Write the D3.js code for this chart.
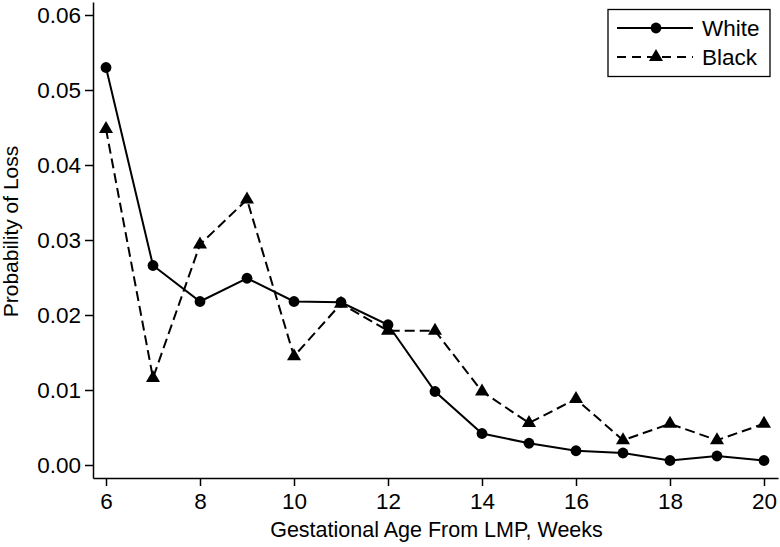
<!DOCTYPE html>
<html><head><meta charset="utf-8">
<script src="https://cdn.jsdelivr.net/npm/d3@7"></script>
<style>body{margin:0;background:#fff}svg{display:block}text{font-family:"Liberation Sans",Arial,Helvetica,sans-serif;fill:#000}</style>
</head><body><svg id="c" width="780" height="547"></svg>
<script>
const weeks = [6,7,8,9,10,11,12,13,14,15,16,17,18,19,20];
const white = [0.0530,0.0266,0.0218,0.0249,0.0218,0.0217,0.0187,0.0098,0.0042,0.0029,0.0019,0.0016,0.0006,0.0012,0.0006];
const black = [0.0448,0.0116,0.0294,0.0354,0.0145,0.0215,0.0179,0.0179,0.0098,0.0056,0.0088,0.0033,0.0055,0.0033,0.0055];
const xTicks = [6,8,10,12,14,16,18,20];
const yTicks = [0,0.01,0.02,0.03,0.04,0.05,0.06];
const seriesNames = ["White","Black"];

const svg = d3.select("#c");
const x = d3.scaleLinear().domain([5.7234,20.298]).range([93,778]);
const y = d3.scaleLinear().domain([-0.0017333,0.0617333]).range([478,2]);

const xAxis = svg.append("g").attr("transform","translate(0,478)")
  .call(d3.axisBottom(x).tickValues(xTicks).tickSize(8).tickSizeOuter(0).tickPadding(7).tickFormat(d3.format("d")));
const yAxis = svg.append("g").attr("transform","translate(93,0)")
  .call(d3.axisLeft(y).tickValues(yTicks).tickSize(8).tickSizeOuter(0).tickPadding(4).tickFormat(d3.format(".2f")));
[xAxis,yAxis].forEach(a=>{
  a.selectAll("path,line").attr("stroke","#000").attr("stroke-width",1.5);
  a.selectAll("text").attr("font-size",22.5).attr("font-family","Liberation Sans, Arial, sans-serif").attr("fill","#000");
});

svg.append("text").attr("x",436.5).attr("y",537).attr("text-anchor","middle").attr("font-size",21.5).text("Gestational Age From LMP, Weeks");
svg.append("text").attr("transform","translate(18,231.5) rotate(-90)").attr("text-anchor","middle").attr("font-size",21).text("Probability of Loss");

const line = d3.line().x((d,i)=>x(weeks[i])).y(d=>y(d));
svg.append("path").datum(black).attr("d",line).attr("fill","none").attr("stroke","#000").attr("stroke-width",2).attr("stroke-dasharray","10,5");
svg.append("path").datum(white).attr("d",line).attr("fill","none").attr("stroke","#000").attr("stroke-width",2);

const tri = d3.symbol().type(d3.symbolTriangle).size(85);
svg.selectAll(".tri").data(black).join("path").attr("d",tri)
  .attr("transform",(d,i)=>`translate(${x(weeks[i])},${y(d)})`).attr("fill","#000");
svg.selectAll(".dot").data(white).join("circle")
  .attr("cx",(d,i)=>x(weeks[i])).attr("cy",d=>y(d)).attr("r",5.4).attr("fill","#000");

// legend
const lg = svg.append("g");
lg.append("rect").attr("x",608).attr("y",9.5).attr("width",162).attr("height",67).attr("fill","#fff").attr("stroke","#000").attr("stroke-width",1.3);
const rows = [{name:seriesNames[0],y:28,dash:null},{name:seriesNames[1],y:57,dash:"9,6"}];
rows.forEach((r,i)=>{
  lg.append("line").attr("x1",617).attr("x2",693).attr("y1",r.y).attr("y2",r.y).attr("stroke","#000").attr("stroke-width",2).attr("stroke-dasharray",r.dash);
  if(i===0) lg.append("circle").attr("cx",656).attr("cy",r.y).attr("r",5.4);
  else lg.append("path").attr("d",tri).attr("transform",`translate(656,${r.y})`);
  lg.append("text").attr("x",702).attr("y",r.y+8).attr("font-size",22.5).text(r.name);
});
</script></body></html>
